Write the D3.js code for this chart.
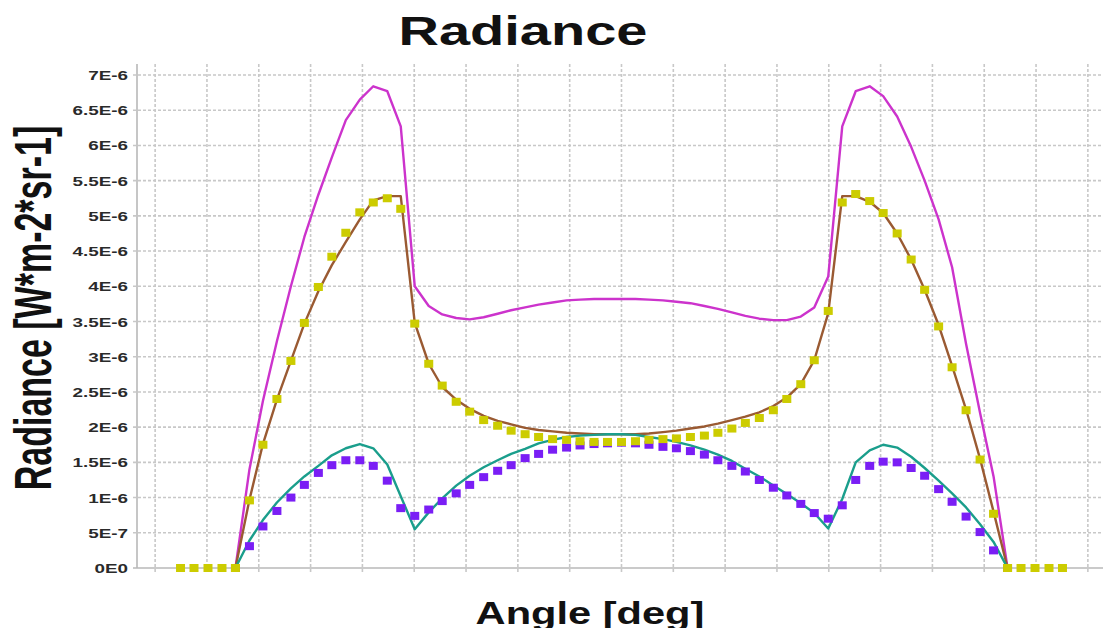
<!DOCTYPE html>
<html lang="en">
<head>
    <meta charset="UTF-8">
    <title>Radiance</title>
    <script src="https://d3js.org/d3.v7.min.js"></script>
    <style>
        body{
            margin: 0;
            background: #ffffff;
        }
        text{
            font-family: "Liberation Sans", Arial, sans-serif;
            font-weight: bold;
        }
        .grid{
            stroke: #c8c8c8;
            stroke-width: 1.6;
            stroke-dasharray: 3,2;
        }
    </style>
</head>
<body>

<svg width="1103" height="628" id="chart"></svg>

<script>
    // angle of every sample [deg]
    let angle = [-74.5, -71.8, -69.2, -66.5, -63.8, -61.2, -58.5, -55.9, -53.2, -50.5,
        -47.9, -45.2, -42.6, -39.9, -37.2, -34.6, -31.9, -29.3, -26.6, -23.9,
        -21.3, -18.6, -16.0, -13.3, -10.6, -8.0, -5.3, -2.7, 0,
        2.7, 5.3, 8.0, 10.6, 13.3, 16.0, 18.6, 21.3, 23.9, 26.6,
        29.3, 31.9, 34.6, 37.2, 39.9, 42.6, 45.2, 47.9, 50.5, 53.2,
        55.9, 58.5, 61.2, 63.8, 66.5, 69.2, 71.8, 74.5]
    // extra zero samples outside the cone (yellow markers only)
    let tail_angle = [-85.1, -82.5, -79.8, -77.1, 77.1, 79.8, 82.5, 85.1]
    let tail_value = [0, 0, 0, 0, 0, 0, 0, 0]

    // radiance values in units of 1E-6 W*m-2*sr-1
    let magenta = [0, 1.40, 2.37, 3.22, 4.00, 4.70, 5.30, 5.83, 6.36, 6.65,
        6.84, 6.77, 6.27, 4.00, 3.72, 3.60, 3.55, 3.53, 3.56, 3.61,
        3.66, 3.70, 3.74, 3.77, 3.80, 3.81, 3.82, 3.82, 3.82,
        3.82, 3.81, 3.80, 3.78, 3.76, 3.72, 3.68, 3.63, 3.58, 3.54,
        3.52, 3.52, 3.57, 3.70, 4.14, 6.27, 6.77, 6.84, 6.70, 6.41,
        5.98, 5.50, 4.95, 4.27, 3.18, 2.20, 1.30, 0]
    let brown = [0, 0.97, 1.76, 2.39, 2.94, 3.47, 3.93, 4.30, 4.63, 4.95,
        5.22, 5.28, 5.28, 3.48, 2.90, 2.57, 2.39, 2.26, 2.16, 2.09,
        2.04, 1.99, 1.96, 1.94, 1.92, 1.91, 1.90, 1.90, 1.90,
        1.90, 1.91, 1.93, 1.95, 1.98, 2.01, 2.05, 2.10, 2.15, 2.21,
        2.30, 2.42, 2.61, 2.95, 3.62, 5.28, 5.28, 5.20, 5.04, 4.75,
        4.38, 3.95, 3.45, 2.87, 2.25, 1.55, 0.80, 0]
    let yellow = [0, 0.96, 1.75, 2.40, 2.94, 3.48, 3.99, 4.42, 4.76, 5.05,
        5.19, 5.25, 5.10, 3.47, 2.90, 2.59, 2.36, 2.22, 2.10, 2.02,
        1.95, 1.90, 1.86, 1.83, 1.82, 1.80, 1.79, 1.79, 1.79,
        1.80, 1.82, 1.83, 1.84, 1.86, 1.88, 1.92, 1.98, 2.06, 2.13,
        2.24, 2.40, 2.61, 2.95, 3.65, 5.19, 5.31, 5.21, 5.04, 4.75,
        4.38, 3.95, 3.43, 2.85, 2.24, 1.54, 0.77, 0]
    let teal = [0, 0.39, 0.68, 0.93, 1.13, 1.30, 1.45, 1.60, 1.70, 1.76,
        1.70, 1.47, 1.02, 0.55, 0.79, 0.99, 1.17, 1.31, 1.43, 1.53,
        1.62, 1.69, 1.77, 1.82, 1.86, 1.88, 1.89, 1.90, 1.90,
        1.89, 1.86, 1.83, 1.79, 1.74, 1.68, 1.61, 1.52, 1.41, 1.30,
        1.17, 1.05, 0.92, 0.78, 0.56, 0.98, 1.50, 1.67, 1.75, 1.71,
        1.58, 1.42, 1.24, 1.06, 0.86, 0.62, 0.37, 0]
    let purple = [0, 0.31, 0.59, 0.81, 1.00, 1.18, 1.35, 1.46, 1.53, 1.53,
        1.45, 1.24, 0.85, 0.74, 0.83, 0.95, 1.06, 1.18, 1.29, 1.38,
        1.46, 1.56, 1.62, 1.68, 1.71, 1.74, 1.76, 1.77, 1.78,
        1.77, 1.75, 1.72, 1.70, 1.66, 1.61, 1.53, 1.45, 1.37, 1.25,
        1.14, 1.03, 0.91, 0.78, 0.70, 0.89, 1.25, 1.45, 1.51, 1.50,
        1.42, 1.31, 1.12, 0.94, 0.73, 0.51, 0.25, 0]

    // y axis ticks and their labels
    let y_ticks = [0, 0.5, 1, 1.5, 2, 2.5, 3, 3.5, 4, 4.5, 5, 5.5, 6, 6.5, 7]
    let y_tick_labels = ["0E0", "5E-7", "1E-6", "1.5E-6", "2E-6", "2.5E-6", "3E-6", "3.5E-6",
        "4E-6", "4.5E-6", "5E-6", "5.5E-6", "6E-6", "6.5E-6", "7E-6"]
    // vertical grid every 10 deg
    let x_grid = [-90, -80, -70, -60, -50, -40, -30, -20, -10, 0, 10, 20, 30, 40, 50, 60, 70, 80, 90]

    let svg = d3.select("#chart")
    let plot_left = 137, plot_bottom = 568, plot_top = 64

    let x = d3.scaleLinear().domain([-93.5, 93.5]).range([plot_left, 1106])
    let y = d3.scaleLinear().domain([0, 7]).range([plot_bottom, 75])

    // grid
    svg.append("g").selectAll("line").data(y_ticks.slice(1)).join("line")
        .attr("class", "grid")
        .attr("x1", plot_left - 4).attr("x2", 1103)
        .attr("y1", d => y(d)).attr("y2", d => y(d))
    svg.append("g").selectAll("line").data(x_grid).join("line")
        .attr("class", "grid")
        .attr("x1", d => x(d)).attr("x2", d => x(d))
        .attr("y1", plot_top).attr("y2", plot_bottom + 4)

    // axes
    svg.append("line").attr("x1", plot_left).attr("x2", plot_left).attr("y1", plot_top).attr("y2", plot_bottom)
        .attr("stroke", "#b8b8b8").attr("stroke-width", 1.6)
    svg.append("line").attr("x1", plot_left - 4).attr("x2", 1103).attr("y1", plot_bottom).attr("y2", plot_bottom)
        .attr("stroke", "#b8b8b8").attr("stroke-width", 1.6)

    // y tick labels (horizontally stretched like the source)
    svg.append("g").selectAll("text").data(y_ticks).join("text")
        .attr("transform", d => "translate(128," + (y(d) + 5) + ") scale(1.45,1)")
        .attr("text-anchor", "end")
        .attr("font-size", 13)
        .attr("fill", "#2a2a2a")
        .text((d, i) => y_tick_labels[i])

    // lines
    let line = d3.line().x(d => x(d[0])).y(d => y(d[1]))
    function draw_line(values, color){
        svg.append("path")
            .datum(d3.zip(angle, values))
            .attr("d", line)
            .attr("fill", "none")
            .attr("stroke", color)
            .attr("stroke-width", 2.4)
            .attr("stroke-linejoin", "round")
    }
    function draw_squares(xs, values, color){
        svg.append("g").selectAll("rect").data(d3.zip(xs, values)).join("rect")
            .attr("x", d => x(d[0]) - 4.5)
            .attr("y", d => y(d[1]) - 4)
            .attr("width", 9)
            .attr("height", 8)
            .attr("fill", color)
    }

    draw_line(magenta, "#cc33cc")
    draw_line(brown, "#9a5a32")
    draw_line(teal, "#1a9e8c")
    draw_squares(angle, purple, "#7a1ef5")
    draw_squares(angle, yellow, "#cccc00")
    draw_squares(tail_angle, tail_value, "#cccc00")

    // titles
    svg.append("text")
        .attr("transform", "translate(523,45) scale(1.4,1)")
        .attr("text-anchor", "middle")
        .attr("font-size", 40)
        .attr("fill", "#111")
        .text("Radiance")
    svg.append("text")
        .attr("transform", "translate(51,308) scale(1.55,1) rotate(-90)")
        .attr("text-anchor", "middle")
        .attr("font-size", 34)
        .attr("fill", "#111")
        .text("Radiance [W*m-2*sr-1]")
    svg.append("text")
        .attr("transform", "translate(590,624) scale(1.3,1)")
        .attr("text-anchor", "middle")
        .attr("font-size", 32)
        .attr("fill", "#111")
        .text("Angle [deg]")
</script>

</body>
</html>
